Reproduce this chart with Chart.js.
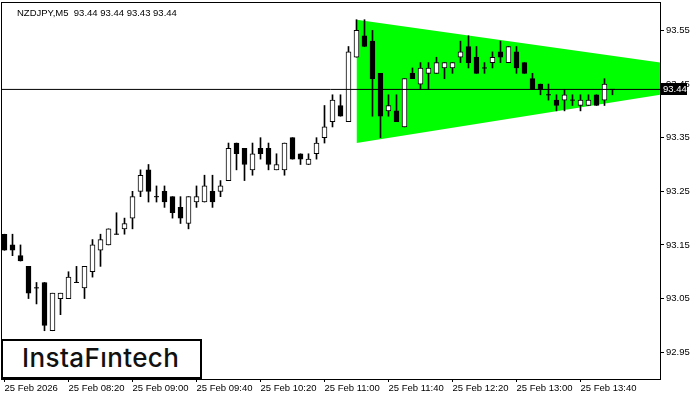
<!DOCTYPE html>
<html lang="en">
<head>
<meta charset="UTF-8">
<title>NZDJPY,M5</title>
<script src="https://cdn.jsdelivr.net/npm/chart.js"></script>
<style>
  body { margin: 0; background: #fff; }
  #wrap { position: relative; width: 700px; height: 400px; }
  #logo {
    position: absolute; left: 1px; top: 339px;
    width: 178px; height: 36px; padding-left: 19px;
    border: 2px solid #000; background: #fff;
    font: 500 26px Inter, sans-serif; line-height: 34px;
    letter-spacing: 0.4px; color: #111;
  }
</style>
</head>
<body>
<div id="wrap">
  <canvas id="chart" width="700" height="400"></canvas>
  <div id="logo">InstaFıntech</div>
</div>
<script>
// NZDJPY M5 candles, 07:40 .. 13:60 on 25 Feb
const symbol = 'NZDJPY,M5';
const opens  = [93.17,93.15,93.13,93.11,93.07,93.08,92.99,93.05,93.05,93.08,93.07,93.10,93.14,93.15,93.17,93.18,93.20,93.25,93.29,93.24,
                93.25,93.24,93.22,93.19,93.23,93.23,93.25,93.25,93.27,93.34,93.33,93.29,93.33,93.33,93.29,93.29,93.35,93.32,93.30,93.32,
                93.35,93.38,93.41,93.38,93.50,93.54,93.53,93.47,93.40,93.40,93.37,93.47,93.45,93.47,93.47,93.48,93.48,93.50,93.52,93.50,
                93.48,93.49,93.51,93.49,93.51,93.49,93.46,93.45,93.43,93.42,93.42,93.42,93.41,93.41,93.43,93.42,93.44];
const highs  = [93.17,93.17,93.15,93.11,93.08,93.08,93.06,93.06,93.10,93.11,93.11,93.16,93.17,93.18,93.21,93.20,93.25,93.29,93.30,93.26,
                93.26,93.24,93.24,93.24,93.26,93.28,93.28,93.27,93.34,93.34,93.33,93.34,93.35,93.34,93.32,93.34,93.35,93.32,93.32,93.35,
                93.41,93.43,93.43,93.52,93.57,93.57,93.55,93.47,93.43,93.43,93.46,93.48,93.49,93.49,93.50,93.49,93.49,93.53,93.54,93.52,
                93.49,93.51,93.53,93.52,93.52,93.49,93.47,93.45,93.45,93.43,93.44,93.43,93.43,93.43,93.43,93.46,93.44];
const lows   = [93.14,93.13,93.12,93.05,93.04,92.99,92.99,93.02,93.05,93.08,93.05,93.09,93.11,93.15,93.17,93.17,93.18,93.24,93.23,93.23,
                93.22,93.20,93.19,93.18,93.22,93.23,93.22,93.24,93.27,93.29,93.27,93.28,93.31,93.29,93.29,93.28,93.31,93.30,93.30,93.31,
                93.34,93.37,93.39,93.38,93.50,93.52,93.39,93.35,93.39,93.38,93.37,93.46,93.44,93.44,93.47,93.46,93.47,93.49,93.48,93.47,
                93.47,93.48,93.49,93.49,93.47,93.47,93.44,93.43,93.42,93.40,93.40,93.41,93.40,93.41,93.41,93.41,93.43];
const closes = [93.14,93.14,93.12,93.06,93.07,93.00,93.06,93.06,93.09,93.08,93.11,93.15,93.16,93.18,93.17,93.19,93.24,93.28,93.25,93.24,
                93.23,93.21,93.20,93.24,93.24,93.26,93.23,93.26,93.33,93.32,93.30,93.32,93.32,93.30,93.30,93.34,93.31,93.31,93.31,93.34,
                93.37,93.42,93.39,93.51,93.55,93.52,93.46,93.39,93.41,93.38,93.46,93.46,93.48,93.48,93.49,93.49,93.49,93.51,93.49,93.47,
                93.48,93.50,93.50,93.52,93.48,93.47,93.44,93.44,93.43,93.41,93.43,93.42,93.42,93.42,93.41,93.45,93.44];

const xTickPos    = [0, 8, 16, 24, 32, 40, 48, 56, 64, 72];
const xTickLabels = ['25 Feb 2026','25 Feb 08:20','25 Feb 09:00','25 Feb 09:40','25 Feb 10:20',
                     '25 Feb 11:00','25 Feb 11:40','25 Feb 12:20','25 Feb 13:00','25 Feb 13:40'];
const yTicks = [92.95, 93.05, 93.15, 93.25, 93.35, 93.45, 93.55];

// symmetrical triangle (start bar, right edge)
const triX      = [44, 82];
const triTop    = [93.57, 93.49];
const triBottom = [93.34, 93.43];

const bid = closes[closes.length - 1];
const xMin = -0.4375, xMax = 81.9375;
const yMin = 92.90, yMax = 93.603;

const FONT = { family: 'Liberation Sans, Arial, sans-serif', size: 9.5 };

const last = opens.length - 1;
const titleText = symbol + '  ' + [opens[last], highs[last], lows[last], closes[last]].map(v => v.toFixed(2)).join(' ');

const extras = {
  id: 'extras',
  afterDraw(chart) {
    const ctx = chart.ctx;
    const y = chart.scales.y.getPixelForValue(bid);
    ctx.save();
    // frame
    ctx.strokeStyle = '#000';
    ctx.lineWidth = 1;
    ctx.strokeRect(1.5, 2.5, 659, 377);
    // bid label
    ctx.fillStyle = '#000';
    ctx.fillRect(661, Math.round(y) - 6, 26, 12);
    ctx.fillStyle = '#fff';
    ctx.font = FONT.size + 'px ' + FONT.family;
    ctx.textBaseline = 'middle';
    ctx.fillText(bid.toFixed(2), 663, Math.round(y));
    // title
    ctx.fillStyle = '#000';
    ctx.textBaseline = 'alphabetic';
    ctx.fillText(titleText, 17, 16);
    ctx.restore();
  }
};

const wicks = opens.map((o, i) => ({ x: i, y: [lows[i], highs[i]] }));
const bodies = opens.map((o, i) => ({ x: i, y: o === closes[i] ? null : [o, closes[i]] }));
const dojis = [];
opens.forEach((o, i) => { if (o === closes[i]) dojis.push({ x: i, y: o }); });

new Chart(document.getElementById('chart'), {
  type: 'bar',
  data: {
    datasets: [
      { type: 'line', data: triX.map((x, i) => ({ x: x, y: triTop[i] })),
        borderWidth: 0, pointRadius: 0, fill: false, order: 10 },
      { type: 'line', data: triX.map((x, i) => ({ x: x, y: triBottom[i] })),
        borderWidth: 0, pointRadius: 0, fill: '-1', backgroundColor: '#00ff00', order: 9 },
      { data: wicks, backgroundColor: '#000', barThickness: 1, grouped: false, order: 5 },
      { data: bodies, grouped: false, barThickness: 5, borderWidth: 1, borderSkipped: false,
        borderColor: '#000',
        backgroundColor: opens.map((o, i) => closes[i] > o ? '#fff' : '#000'), order: 3 },
      { type: 'line', data: dojis, showLine: false, pointStyle: 'line', pointRadius: 2.5,
        pointBorderWidth: 1, borderColor: '#000', order: 2 },
      { type: 'line', data: [{ x: xMin, y: bid }, { x: xMax, y: bid }],
        borderColor: '#000', borderWidth: 1, pointRadius: 0, order: 1 }
    ]
  },
  options: {
    responsive: false,
    animation: false,
    events: [],
    layout: { autoPadding: false, padding: { top: 2, left: 1, right: 0, bottom: 0 } },
    plugins: { legend: { display: false }, tooltip: { enabled: false } },
    scales: {
      x: {
        type: 'linear', min: xMin, max: xMax, offset: false,
        grid: { drawOnChartArea: false, tickLength: 3, color: '#000', offset: false },
        border: { display: false },
        ticks: {
          autoSkip: false, maxRotation: 0, align: 'start', padding: 1, color: '#000', font: FONT,
          callback: (v, i) => xTickLabels[i]
        },
        afterBuildTicks: s => { s.ticks = xTickPos.map(v => ({ value: v })); },
        afterFit: s => { s.height = 21; s.paddingLeft = 0; s.paddingRight = 0; }
      },
      y: {
        type: 'linear', position: 'right', min: yMin, max: yMax,
        grid: { drawOnChartArea: false, tickLength: 4, color: '#000' },
        border: { display: false },
        ticks: { padding: 2, color: '#000', font: FONT, callback: v => v.toFixed(2) },
        afterBuildTicks: s => { s.ticks = yTicks.map(v => ({ value: v })); },
        afterFit: s => { s.width = 40; s.paddingTop = 0; s.paddingBottom = 0; }
      }
    }
  },
  plugins: [extras]
});
</script>
</body>
</html>
